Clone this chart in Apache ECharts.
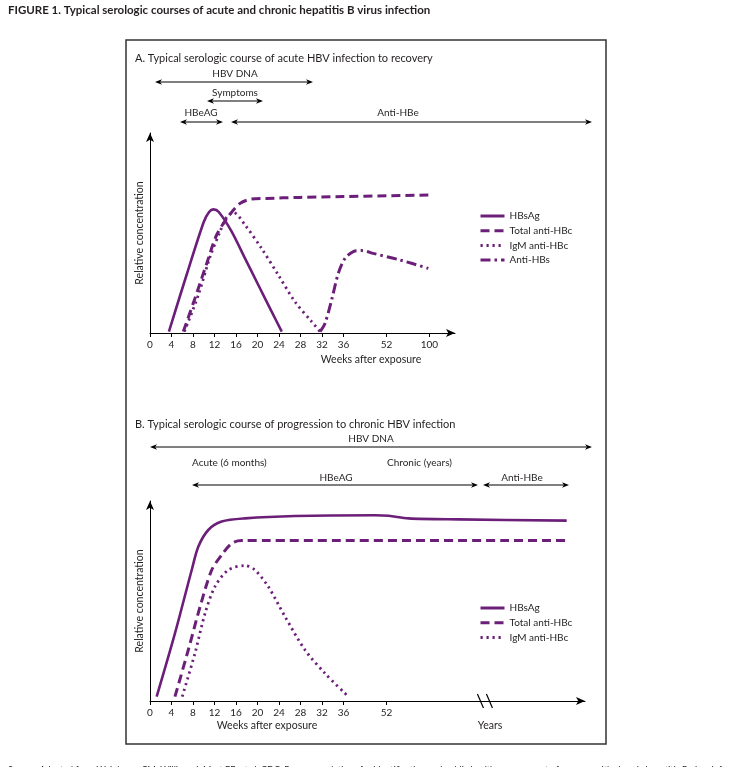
<!DOCTYPE html>
<html>
<head>
<meta charset="utf-8">
<script src="https://cdn.jsdelivr.net/npm/echarts@6.0.0/dist/echarts.min.js"></script>
<style>
  html, body { margin: 0; padding: 0; background: #fff; }
  #chart { width: 731px; height: 767px; }
</style>
</head>
<body>
<div id="chart"></div>
<script>
// x values are axis slots: one slot per labelled tick (4 weeks up to 36, then uneven)
var tickSlotsA = [0, 1, 2, 3, 4, 5, 6, 7, 8, 9, 11, 13];
var tickLabelsA = ['0', '4', '8', '12', '16', '20', '24', '28', '32', '36', '52', '100'];
var tickSlotsB = [0, 1, 2, 3, 4, 5, 6, 7, 8, 9, 11];
var tickLabelsB = ['0', '4', '8', '12', '16', '20', '24', '28', '32', '36', '52'];
var breakSlotB = 15.6;

var namesA = ['HBsAg', 'Total anti-HBc', 'IgM anti-HBc', 'Anti-HBs'];
var namesB = ['HBsAg', 'Total anti-HBc', 'IgM anti-HBc'];

// A. acute infection to recovery
var hbsagA = [[0.88, 0.7], [1.7, 29], [2.5, 55.5], [2.75, 60.5], [2.95, 61.8], [3.2, 60.5], [3.8, 50.7],
  [4.42, 37.3], [5.04, 24], [5.66, 10.7], [6.13, 0.7]];
var totalA = [[1.55, 0.7], [2.09, 17.3], [2.64, 34.8], [3.1, 49], [3.64, 58.2], [4.19, 64.8], [4.73, 67],
  [5.4, 67.3], [6.98, 67.8], [9, 68.2], [11, 68.6], [12.95, 69]];
var igmA = [[1.6, 0.7], [2.25, 19], [2.79, 38], [3.26, 50.7], [3.57, 58], [3.88, 60.3], [4.42, 54],
  [5.19, 42.3], [5.97, 29], [6.74, 15.7], [7.52, 5.7], [7.91, 0.7]];
var antiHbsA = [[7.91, 0.7], [8.14, 4.8], [8.45, 16.5], [8.76, 29.8], [9.07, 37.3], [9.46, 40.7],
  [9.85, 41.2], [10.39, 39.8], [11.63, 36.5], [12.95, 32.3]];

// B. progression to chronic infection
var hbsagB = [[0.31, 2.2], [1.16, 33.8], [1.94, 65.5], [2.25, 77.2], [2.71, 85.5], [3.33, 89.7], [4.42, 91.3],
  [6.74, 92.5], [10.47, 92.9], [11.1, 92.6], [12.02, 91.3], [14.34, 90.8], [19.38, 90.2]];
var totalB = [[1.16, 2.2], [1.78, 25.5], [2.33, 47.2], [2.87, 65.5], [3.33, 73], [3.8, 78.8], [4.26, 80.2],
  [19.38, 80.2]];
var igmB = [[1.5, 2.2], [2.09, 23.8], [2.56, 43.8], [3.02, 57.2], [3.64, 65.5], [4.42, 67.7], [4.88, 65.5],
  [5.5, 57.2], [6.28, 42.2], [7.21, 25.5], [8.14, 13.8], [9.15, 3]];

var purple = '#6c1f79';
var ink = '#231f20';
var font = 'Lato, "Open Sans", sans-serif';

var styles = {
  'HBsAg': { width: 2.6, type: 'solid' },
  'Total anti-HBc': { width: 3, type: [9, 5] },
  'IgM anti-HBc': { width: 2.8, type: [2.2, 3.8] },
  'Anti-HBs': { width: 3, type: [10, 4, 2.5, 4] }
};

function line(name, data, idx) {
  return {
    name: name,
    type: 'line',
    xAxisIndex: idx,
    yAxisIndex: idx,
    data: data,
    smooth: 0.3,
    showSymbol: false,
    symbol: 'none',
    lineStyle: { color: purple, width: styles[name].width, type: styles[name].type },
    itemStyle: { color: purple },
    silent: true
  };
}

function xAxis(idx, slots, labels, max) {
  return {
    type: 'value', gridIndex: idx, min: 0, max: max,
    axisLine: { lineStyle: { color: '#000', width: 1 }, symbol: ['none', 'arrow'], symbolSize: [6, 9] },
    axisTick: { show: true, customValues: slots, length: 4, lineStyle: { color: '#000' } },
    axisLabel: {
      customValues: slots, margin: 7, fontSize: 10, fontFamily: font, color: ink,
      formatter: function (v) { return labels[slots.indexOf(v)]; }
    },
    splitLine: { show: false }
  };
}

function yAxis(idx) {
  return {
    type: 'value', gridIndex: idx, min: 0, max: 100,
    name: 'Relative concentration', nameLocation: 'middle', nameGap: 5,
    nameTextStyle: { fontSize: 10.5, fontFamily: font, color: ink },
    axisLine: { show: true, lineStyle: { color: '#000', width: 1 }, symbol: ['none', 'arrow'], symbolSize: [6, 9] },
    axisTick: { show: false },
    axisLabel: { show: false },
    splitLine: { show: false }
  };
}

function txt(s, x, y, opt) {
  opt = opt || {};
  return {
    type: 'text',
    style: {
      text: s, x: x, y: y,
      font: (opt.weight || 'normal') + ' ' + (opt.size || 10) + 'px ' + font,
      fill: ink,
      textAlign: opt.align || 'center',
      textVerticalAlign: 'middle'
    }
  };
}

function arrow(x1, x2, y) {
  var h = 7, w = 2.8;
  return [
    { type: 'line', shape: { x1: x1 + 3, y1: y, x2: x2 - 3, y2: y }, style: { stroke: '#000', lineWidth: 1 } },
    { type: 'polygon', shape: { points: [[x1, y], [x1 + h, y - w], [x1 + h - 2, y], [x1 + h, y + w]] }, style: { fill: '#000' } },
    { type: 'polygon', shape: { points: [[x2, y], [x2 - h, y - w], [x2 - h + 2, y], [x2 - h, y + w]] }, style: { fill: '#000' } }
  ];
}

var graphics = [
  { type: 'rect', shape: { x: 126, y: 40, width: 480, height: 704 }, style: { fill: 'none', stroke: '#333', lineWidth: 1.5 } },
  txt('FIGURE 1. Typical serologic courses of acute and chronic hepatitis B virus infection', 8, 10, { align: 'left', weight: 'bold', size: 11.5 }),
  txt('A. Typical serologic course of acute HBV infection to recovery', 135, 58, { align: 'left', size: 11 }),
  txt('HBV DNA', 235, 74),
  txt('Symptoms', 235, 93),
  txt('HBeAG', 201, 113),
  txt('Anti-HBe', 398, 113),
  txt('Weeks after exposure', 371, 360, { size: 10.5 }),
  txt('B. Typical serologic course of progression to chronic HBV infection', 135, 424, { align: 'left', size: 11 }),
  txt('HBV DNA', 371, 439),
  txt('Acute (6 months)', 192, 463, { align: 'left' }),
  txt('Chronic (years)', 387, 463, { align: 'left' }),
  txt('HBeAG', 336, 478),
  txt('Anti-HBe', 522, 478),
  txt('Weeks after exposure', 267, 726, { size: 10.5 }),
  txt('Years', 490, 726, { size: 10.5 }),
  {
    type: 'text',
    style: {
      text: 'Source: Adapted from Weinbaum CM, Williams I, Mast EE, et al. CDC. Recommendations for identification and public health management of persons with chronic hepatitis B virus infection.',
      x: 8, y: 770, font: '9px ' + font, fill: ink, textAlign: 'left', textVerticalAlign: 'middle'
    }
  }
].concat(arrow(155, 313, 82), arrow(207, 263, 101), arrow(180, 223, 122), arrow(231, 592, 122),
  arrow(150, 592, 447), arrow(192, 478, 485), arrow(483, 569, 485));

var chart = echarts.init(document.getElementById('chart'), null, { renderer: 'canvas' });

var legendBase = {
  left: 474, orient: 'vertical', itemWidth: 24, itemHeight: 10, itemGap: 4.7,
  selectedMode: false, itemStyle: { opacity: 0 }, lineStyle: { width: 3 },
  textStyle: { fontSize: 10, fontFamily: font, color: ink }
};

var option = {
  backgroundColor: '#fff',
  animation: false,
  grid: [
    { left: 150, top: 133, width: 305, height: 200 },
    { left: 150, top: 501, width: 435, height: 200 }
  ],
  xAxis: [xAxis(0, tickSlotsA, tickLabelsA, 14.19), xAxis(1, tickSlotsB, tickLabelsB, 20.23)],
  yAxis: [yAxis(0), yAxis(1)],
  legend: [
    Object.assign({}, legendBase, { top: 206, data: namesA }),
    Object.assign({}, legendBase, { top: 598, data: namesB })
  ],
  series: [
    line('HBsAg', hbsagA, 0),
    line('Total anti-HBc', totalA, 0),
    line('IgM anti-HBc', igmA, 0),
    line('Anti-HBs', antiHbsA, 0),
    line('HBsAg', hbsagB, 1),
    line('Total anti-HBc', totalB, 1),
    line('IgM anti-HBc', igmB, 1)
  ],
  graphic: graphics
};

chart.setOption(option);

// axis break mark "//" on panel B
var bp = chart.convertToPixel({ xAxisIndex: 1, yAxisIndex: 1 }, [breakSlotB, 0]);
graphics.push(
  { type: 'line', shape: { x1: bp[0] - 8, y1: bp[1] - 7, x2: bp[0] - 2, y2: bp[1] + 7 }, style: { stroke: '#000', lineWidth: 1.2 } },
  { type: 'line', shape: { x1: bp[0] + 1, y1: bp[1] - 7, x2: bp[0] + 7, y2: bp[1] + 7 }, style: { stroke: '#000', lineWidth: 1.2 } }
);
chart.setOption({ graphic: graphics });
</script>
</body>
</html>
